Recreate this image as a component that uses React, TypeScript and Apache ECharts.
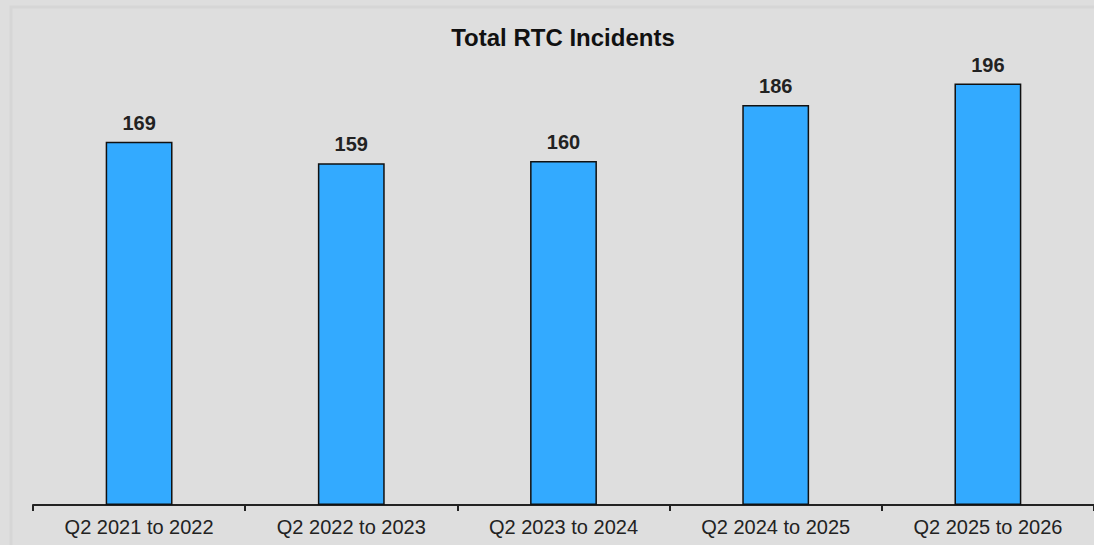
import React, { useEffect, useRef } from "react";
import * as echarts from "echarts";

const categories = ["Q2 2021 to 2022", "Q2 2022 to 2023", "Q2 2023 to 2024", "Q2 2024 to 2025", "Q2 2025 to 2026"];
const values = [169, 159, 160, 186, 196];
const title = "Total RTC Incidents";

export default function App() {
  const ref = useRef<HTMLDivElement>(null);
  useEffect(() => {
    const chart = echarts.init(ref.current!, null, { renderer: "svg" });
    chart.setOption({
      animation: false,
      backgroundColor: "#dedede",
      textStyle: { fontFamily: "Liberation Sans, Arial, sans-serif" },
      title: {
        text: title,
        left: 558,
        textAlign: "center",
        top: 20,
        textStyle: { fontSize: 24, fontWeight: "bold", color: "#111", fontFamily: "Liberation Sans, Arial, sans-serif" },
      },
      graphic: [
        {
          type: "rect",
          shape: { x: 11, y: 7, width: 1100, height: 560 },
          style: { fill: "none", stroke: "#d6d6d6", lineWidth: 3 },
          silent: true,
        },
      ],
      grid: { left: 33, right: 0, top: 75, bottom: 40 },
      xAxis: {
        type: "category",
        data: categories,
        axisLine: { lineStyle: { color: "#222", width: 2 } },
        axisTick: { show: true, length: 6, lineStyle: { color: "#222", width: 2 } },
        axisLabel: { color: "#222", fontSize: 20, margin: 12 },
      },
      yAxis: {
        type: "value",
        min: 0,
        max: 200,
        show: false,
        splitLine: { show: false },
      },
      series: [
        {
          type: "bar",
          data: values,
          barWidth: "31.5%",
          itemStyle: { color: "#33aaff", borderColor: "#111", borderWidth: 1.5 },
          label: {
            show: true,
            position: "top",
            distance: 9,
            color: "#222",
            fontSize: 20,
            fontWeight: "bold",
          },
        },
      ],
    });
    return () => chart.dispose();
  }, []);
  return <div ref={ref} style={{ position: "absolute", left: 0, top: 0, width: 1094, height: 545 }} />;
}
